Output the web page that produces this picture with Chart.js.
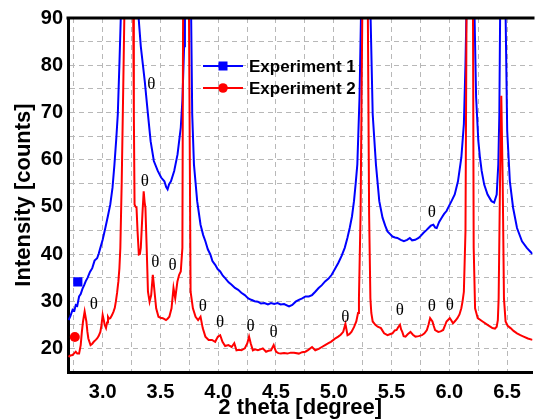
<!DOCTYPE html>
<html>
<head>
<meta charset="utf-8">
<script src="https://cdn.jsdelivr.net/npm/chart.js@4.4.1/dist/chart.umd.min.js"></script>
<style>
  html, body { margin: 0; padding: 0; background: #fff; overflow: hidden; }
  #wrap { width: 539px; height: 419px; position: relative; }
</style>
</head>
<body>
<div id="wrap"><canvas id="c" width="539" height="419"></canvas></div>
<script>
// ---------------- DATA ----------------
const seriesNames = ["Experiment 1", "Experiment 2"];

const exp1Theta = [2.705,2.72,2.74,2.755,2.767,2.78,2.796,2.81,2.825,2.84,2.853,2.87,2.89,2.91,2.93,2.952,2.965,2.98,3.0,3.023,3.045,3.066,3.085,3.102,3.118,3.131,3.145,3.158,3.23,3.305,3.33,3.364,3.392,3.415,3.443,3.477,3.506,3.534,3.55,3.562,3.575,3.591,3.619,3.648,3.676,3.69,3.705,3.712,3.735,3.765,3.775,3.79,3.818,3.847,3.87,3.889,3.91,3.932,3.95,3.974,3.995,4.017,4.04,4.06,4.09,4.116,4.145,4.173,4.2,4.23,4.26,4.286,4.315,4.343,4.37,4.4,4.43,4.457,4.485,4.514,4.54,4.57,4.613,4.641,4.67,4.698,4.727,4.755,4.784,4.812,4.84,4.869,4.897,4.925,4.955,4.982,5.01,5.039,5.068,5.095,5.118,5.138,5.158,5.175,5.19,5.204,5.223,5.236,5.277,5.318,5.337,5.365,5.394,5.422,5.445,5.465,5.488,5.508,5.53,5.55,5.58,5.607,5.635,5.658,5.678,5.705,5.734,5.755,5.777,5.8,5.82,5.84,5.862,5.878,5.891,5.912,5.934,5.955,5.976,6.0,6.019,6.047,6.075,6.104,6.126,6.14,6.148,6.182,6.218,6.232,6.251,6.265,6.28,6.302,6.331,6.365,6.388,6.41,6.424,6.433,6.44,6.463,6.487,6.501,6.524,6.552,6.586,6.629,6.671,6.72];
const exp1Counts = [26.0,26.8,28.2,28.0,29.2,29.0,31.0,31.5,32.6,33.4,34.2,35.0,36.2,37.0,38.6,39.1,40.0,41.3,43.0,45.5,48.0,50.5,54.0,59.0,64.5,69.6,80.3,91,400,92,84,76.7,69.6,63.9,59.7,57.6,56.2,55.4,54.2,53.7,54.8,55.4,57.6,61.1,66.8,72.5,84,92,400,92,69.6,59.0,51.2,46.2,44.0,42.7,41.0,39.9,38.5,37.7,36.8,36.3,35.4,34.9,34.0,33.5,32.8,32.4,31.8,31.3,30.6,30.3,30.0,29.9,29.5,29.6,29.3,29.6,29.4,29.6,29.3,29.4,28.9,29.2,29.9,30.3,30.6,31.0,31.0,31.3,32.0,32.8,33.4,34.2,34.8,35.6,36.8,38.1,39.6,41.3,43.4,45.5,48.0,51.2,55.0,59.0,73.2,91,400,91,69.6,59.0,51.2,47.7,46.0,44.8,44.2,43.7,43.5,43.4,43.0,42.7,43.0,43.4,42.9,43.0,43.4,43.9,44.5,45.0,45.5,46.0,46.2,45.6,45.5,46.8,47.7,48.5,49.1,50.3,51.2,52.6,55.4,60.4,67.5,80.3,91,400,91,73.2,64.0,60.5,57.6,54.7,52.6,51.2,50.9,52.6,59.0,69.6,91,400,91,66.1,55.4,49.8,45.5,42.7,41.3,40.0];

const exp2Theta = [2.705,2.72,2.739,2.755,2.767,2.78,2.796,2.81,2.82,2.83,2.844,2.859,2.868,2.876,2.895,2.91,2.923,2.94,2.952,2.965,2.98,2.99,3.0,3.01,3.017,3.029,3.038,3.046,3.055,3.066,3.08,3.094,3.105,3.114,3.125,3.136,3.145,3.153,3.165,3.179,3.188,3.225,3.264,3.27,3.276,3.285,3.293,3.302,3.313,3.322,3.33,3.344,3.355,3.363,3.37,3.381,3.392,3.406,3.42,3.434,3.442,3.449,3.463,3.483,3.5,3.52,3.535,3.548,3.562,3.577,3.596,3.613,3.628,3.647,3.662,3.676,3.69,3.696,3.72,3.747,3.761,3.781,3.804,3.826,3.847,3.866,3.889,3.917,3.946,3.974,3.997,4.017,4.037,4.06,4.088,4.116,4.139,4.158,4.18,4.201,4.23,4.252,4.267,4.281,4.3,4.32,4.343,4.365,4.386,4.414,4.435,4.457,4.48,4.5,4.52,4.542,4.57,4.599,4.627,4.656,4.698,4.726,4.755,4.78,4.812,4.84,4.87,4.897,4.925,4.954,4.975,4.997,5.018,5.039,5.06,5.082,5.101,5.119,5.135,5.153,5.175,5.195,5.21,5.218,5.232,5.247,5.27,5.295,5.306,5.317,5.325,5.337,5.36,5.38,5.408,5.436,5.465,5.485,5.508,5.528,5.544,5.56,5.573,5.583,5.593,5.605,5.621,5.64,5.664,5.685,5.707,5.735,5.763,5.785,5.806,5.82,5.834,5.854,5.865,5.877,5.905,5.925,5.947,5.962,5.976,6.004,6.018,6.032,6.05,6.07,6.088,6.104,6.115,6.126,6.14,6.149,6.177,6.205,6.211,6.223,6.246,6.288,6.331,6.373,6.395,6.41,6.42,6.427,6.439,6.45,6.462,6.473,6.487,6.505,6.53,6.556,6.586,6.615,6.643,6.68,6.72];
const exp2Counts = [18.2,18.5,18.6,19.0,19.3,18.9,18.9,20.7,23.5,25.7,27.8,25.7,23.5,22.1,20.7,21.0,21.4,21.8,22.1,22.6,23.5,25.0,27.1,26.0,25.0,24.3,25.5,26.7,26.3,26.4,27.0,27.8,28.6,29.9,31.8,34.2,37.0,41.3,55.4,76.7,91,500,91,69.6,50.5,50.0,49.8,44.8,39.9,40.0,41.3,48.4,53.3,51.0,49.8,41.3,32.0,29.9,31.3,35.6,33.8,32.0,28.5,26.7,26.5,26.4,26.2,26.0,26.3,26.7,28.5,32.8,30.6,34.2,35.6,36.3,41.3,91,500,91,32.0,28.5,26.7,26.0,26.7,24.3,22.5,21.8,21.8,21.4,22.5,22.8,21.4,20.5,20.7,20.3,21.1,19.6,19.7,19.6,20.0,21.1,22.5,21.1,19.6,19.8,19.6,19.8,20.0,19.3,19.5,19.6,20.7,19.3,19.0,18.9,19.0,18.9,19.1,19.1,18.9,19.2,19.3,19.7,20.3,19.6,19.9,20.3,20.7,21.1,21.4,21.8,22.2,22.5,22.9,23.5,25.2,22.8,23.0,23.5,24.5,25.7,27.5,30.6,48.4,91,500,91,48.4,30.6,27.5,25.7,25.0,24.6,24.3,23.2,22.8,23.0,23.2,23.8,23.9,24.6,25.0,24.0,23.5,22.6,22.5,23.0,23.5,22.9,22.5,22.6,22.8,23.2,23.9,25.0,26.4,25.7,24.8,23.9,23.5,23.6,23.9,24.8,25.7,26.4,25.9,25.3,25.8,26.4,27.2,28.5,30.0,32.0,44.8,91,500,91,41.3,28.5,26.4,25.7,25.0,24.3,24.2,24.6,26.0,30.6,55.4,73.5,55.4,30.6,25.7,24.8,24.3,23.7,23.2,22.8,22.5,22.1,21.8];

// single marker points drawn inside the plot
const exp1MarkerTheta = [2.785];
const exp1MarkerCounts = [34.1];
const exp2MarkerTheta = [2.759];
const exp2MarkerCounts = [22.4];

// theta phase annotations (data coordinates)
const thetaLabelX = [2.924, 3.421, 3.364, 3.455, 3.605, 3.866, 4.017, 4.281, 4.48, 5.101, 5.572, 5.848, 6.004, 5.848];
const thetaLabelY = [29.2, 76.0, 55.4, 38.1, 37.5, 28.9, 25.5, 24.7, 23.3, 26.5, 28.1, 28.9, 29.0, 48.7];

const xTickLabels = ["3.0", "3.5", "4.0", "4.5", "5.0", "5.5", "6.0", "6.5"];
const yTickLabels = ["20", "30", "40", "50", "60", "70", "80", "90"];

// ---------------- BUILD ----------------
function pts(xs, ys) { return xs.map((x, i) => ({ x: x, y: ys[i] })); }

const BLUE = '#0000ff';
const RED = '#ff0000';
const FONT = "'Liberation Sans', Arial, Helvetica, sans-serif";
Chart.defaults.font.family = FONT;
Chart.defaults.color = '#000';

const frameTop = {
  id: 'frameTop',
  afterDatasetsDraw(chart) {
    const { ctx, chartArea } = chart;
    ctx.save();
    ctx.strokeStyle = '#000';
    ctx.lineWidth = 3;
    ctx.beginPath();
    ctx.moveTo(chartArea.left - 1.5, chartArea.top);
    ctx.lineTo(chartArea.right + 2, chartArea.top);
    ctx.stroke();
    ctx.restore();
  }
};

const thetaMarks = {
  id: 'thetaMarks',
  afterDatasetsDraw(chart) {
    const { ctx, scales } = chart;
    ctx.save();
    ctx.fillStyle = '#000';
    ctx.font = "17px 'Liberation Serif', 'DejaVu Serif', serif";
    ctx.textAlign = 'center';
    ctx.textBaseline = 'middle';
    thetaLabelX.forEach((x, i) => {
      ctx.fillText('\u03B8', scales.x.getPixelForValue(x), scales.y.getPixelForValue(thetaLabelY[i]));
    });
    ctx.restore();
  }
};

const lineLegend = {
  id: 'lineLegend',
  afterDraw(chart) {
    const { ctx } = chart;
    const rows = [0, 1];
    ctx.save();
    rows.forEach((di, r) => {
      const ds = chart.data.datasets[di];
      const y = 66 + r * 22;
      const x0 = 203, x1 = 243, xm = 223;
      ctx.strokeStyle = ds.borderColor;
      ctx.lineWidth = 2;
      ctx.beginPath(); ctx.moveTo(x0, y); ctx.lineTo(x1, y); ctx.stroke();
      ctx.fillStyle = ds.borderColor;
      if (ds.legendMarker === 'rect') {
        ctx.fillRect(xm - 4.5, y - 4.5, 9, 9);
      } else {
        ctx.beginPath(); ctx.arc(xm, y, 4.8, 0, Math.PI * 2); ctx.fill();
      }
      ctx.fillStyle = '#000';
      ctx.font = "bold 17px " + FONT;
      ctx.textAlign = 'left';
      ctx.textBaseline = 'middle';
      ctx.fillText(ds.label, 249, y + 1);
    });
    ctx.restore();
  }
};

new Chart(document.getElementById('c'), {
  type: 'line',
  data: {
    datasets: [
      { label: seriesNames[0], data: pts(exp1Theta, exp1Counts), borderColor: BLUE, backgroundColor: BLUE,
        borderWidth: 2, pointRadius: 0, tension: 0, legendMarker: 'rect', order: 2 },
      { label: seriesNames[1], data: pts(exp2Theta, exp2Counts), borderColor: RED, backgroundColor: RED,
        borderWidth: 2, pointRadius: 0, tension: 0, legendMarker: 'circle', order: 1 },
      { label: seriesNames[0] + ' marker', data: pts(exp1MarkerTheta, exp1MarkerCounts), showLine: false,
        pointStyle: 'rect', pointRadius: 6.5, backgroundColor: BLUE, borderColor: BLUE, borderWidth: 0 },
      { label: seriesNames[1] + ' marker', data: pts(exp2MarkerTheta, exp2MarkerCounts), showLine: false,
        pointStyle: 'circle', pointRadius: 5, backgroundColor: RED, borderColor: RED, borderWidth: 0 }
    ]
  },
  options: {
    responsive: false,
    animation: false,
    events: [],
    layout: { padding: { left: 0, right: 0, top: 18, bottom: 0 } },
    plugins: { legend: { display: false }, tooltip: { enabled: false } },
    scales: {
      x: {
        type: 'linear',
        min: 2.7, max: 6.72,
        afterFit(s) { s.height = 47; },
        grid: { color: '#b8b8b8', lineWidth: 1, drawTicks: false },
        border: { display: true, color: '#000', width: 3, dash: [5, 4] },
        ticks: {
          stepSize: 0.25, includeBounds: false, autoSkip: false, maxRotation: 0, padding: 8,
          font: { size: 20, weight: 'bold' }, color: '#000',
          callback(v) {
            const s = Number(v).toFixed(1);
            return (Math.abs(v * 2 - Math.round(v * 2)) < 1e-6 && xTickLabels.includes(s)) ? s : '';
          }
        },
        title: { display: true, text: '2 theta [degree]', font: { size: 22, weight: 'bold' }, color: '#000',
                 padding: { top: 0, bottom: -2 } }
      },
      y: {
        min: 15, max: 90,
        afterFit(s) { s.width = 68; },
        grid: { color: '#b8b8b8', lineWidth: 1, drawTicks: false },
        border: { display: true, color: '#000', width: 3, dash: [5, 4] },
        ticks: {
          stepSize: 5, autoSkip: false, padding: 5,
          font: { size: 20, weight: 'bold' }, color: '#000',
          callback(v) { const s = String(v); return yTickLabels.includes(s) ? s : ''; }
        },
        title: { display: true, text: 'Intensity [counts]', font: { size: 22, weight: 'bold' }, color: '#000',
                 padding: { top: 11, bottom: 0 } }
      }
    }
  },
  plugins: [frameTop, thetaMarks, lineLegend]
});
</script>
</body>
</html>
